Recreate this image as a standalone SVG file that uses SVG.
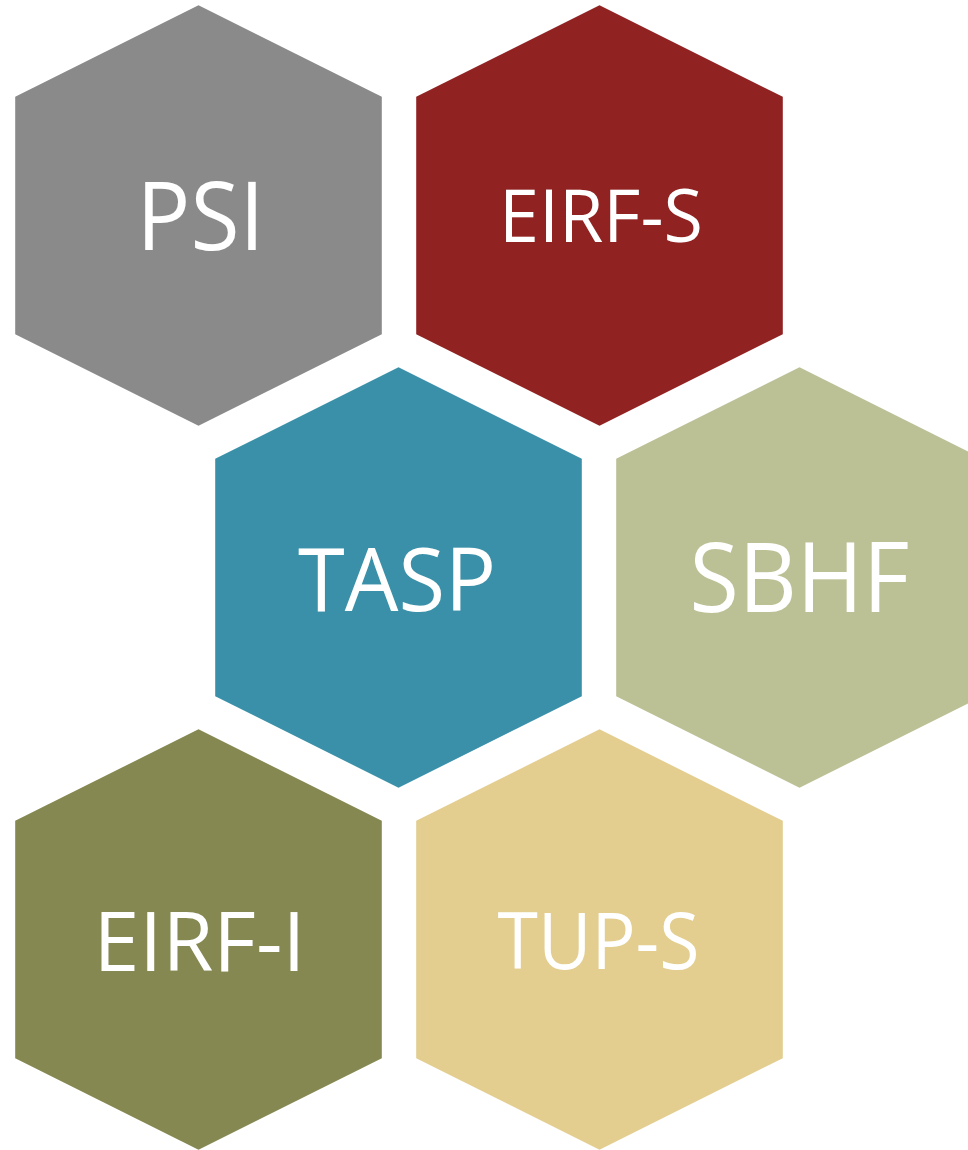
<svg xmlns="http://www.w3.org/2000/svg" xmlns:xlink="http://www.w3.org/1999/xlink" width="968" height="1150" viewBox="0 0 968 1150">
<style>
.lbl{font-family:"Open Sans","Noto Sans","DejaVu Sans",sans-serif;fill:#ffffff;text-anchor:middle}
</style>
<defs>
<path id="hex" d="M0,-210.2 L183.3,-118.7 L183.3,118.7 L0,210.2 L-183.3,118.7 L-183.3,-118.7 Z" stroke-linejoin="round"/>
</defs>
<rect width="968" height="1150" fill="#ffffff"/>
<g id="connectors"/>
<g id="psi" transform="translate(198.5,215.5)">
<use xlink:href="#hex" fill="#8A8A8A"/>
<text class="lbl" x="2" y="34.5" font-size="96" textLength="128" lengthAdjust="spacingAndGlyphs">PSI</text>
</g>
<g id="eirf-s" transform="translate(599.5,215.5)">
<use xlink:href="#hex" fill="#912222"/>
<text class="lbl" x="1.5" y="26.5" font-size="74" textLength="204" lengthAdjust="spacingAndGlyphs">EIRF-S</text>
</g>
<g id="tasp" transform="translate(398.5,577.5)">
<use xlink:href="#hex" fill="#3A90A8"/>
<text class="lbl" x="-1.5" y="33" font-size="88" textLength="198" lengthAdjust="spacingAndGlyphs">TASP</text>
</g>
<g id="sbhf" transform="translate(799.5,577.5)">
<use xlink:href="#hex" fill="#BCC095"/>
<text class="lbl" x="0" y="34" font-size="97" textLength="220" lengthAdjust="spacingAndGlyphs">SBHF</text>
</g>
<g id="eirf-i" transform="translate(198.5,939.5)">
<use xlink:href="#hex" fill="#858851"/>
<text class="lbl" x="1" y="31" font-size="83" textLength="212" lengthAdjust="spacingAndGlyphs">EIRF-I</text>
</g>
<g id="tup-s" transform="translate(599.5,939.5)">
<use xlink:href="#hex" fill="#E3CE90"/>
<text class="lbl" x="-1" y="29" font-size="78" textLength="202" lengthAdjust="spacingAndGlyphs">TUP-S</text>
</g>
</svg>
